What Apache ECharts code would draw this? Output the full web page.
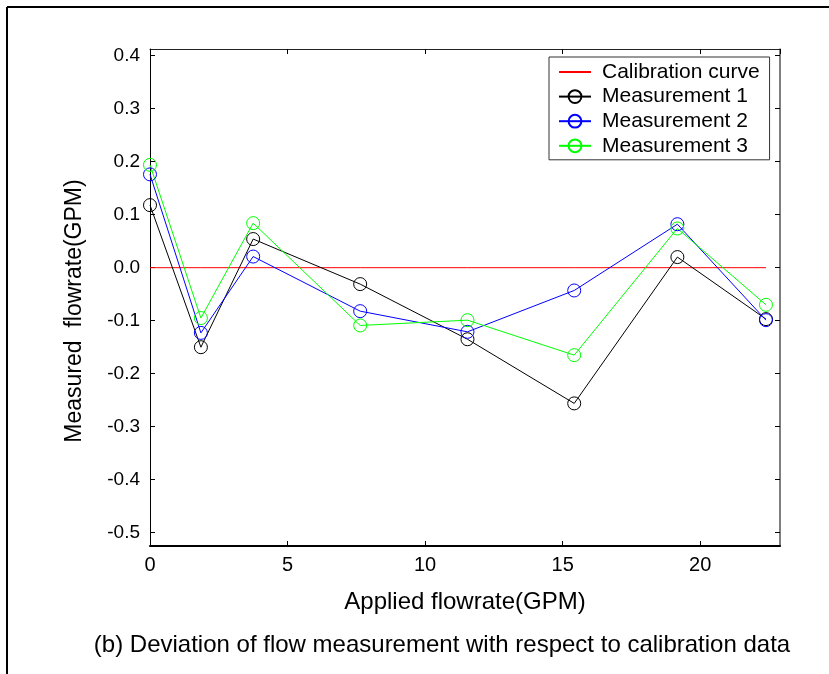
<!DOCTYPE html>
<html>
<head>
<meta charset="utf-8">
<script src="https://cdn.jsdelivr.net/npm/echarts@6/dist/echarts.min.js"></script>
<style>
  html, body { margin: 0; padding: 0; background: #fff; }
  #chart { width: 829px; height: 674px; }
</style>
</head>
<body>
<div id="chart"></div>
<script>
// Applied flow rates (GPM) and deviation of each measurement run (GPM)
const appliedFlow = [0, 1.85, 3.75, 7.64, 11.54, 15.42, 19.17, 22.39];
const calibration = [0, 0, 0, 0, 0, 0, 0, 0];
const measurement1 = [0.118, -0.150, 0.054, -0.031, -0.135, -0.256, 0.020, -0.097];
const measurement2 = [0.176, -0.123, 0.021, -0.082, -0.121, -0.043, 0.082, -0.099];
const measurement3 = [0.194, -0.095, 0.084, -0.109, -0.099, -0.165, 0.074, -0.070];
const yTicks = [-0.5, -0.4, -0.3, -0.2, -0.1, 0.0, 0.1, 0.2, 0.3, 0.4];

const FONT = 'Arial, "Liberation Sans", sans-serif';
const pairs = (ys) => appliedFlow.map((x, i) => [x, ys[i]]);

const X_MIN = 0, X_MAX = 22.9, Y_MIN = -0.525, Y_MAX = 0.4125;

function markerSeries(name, color, values) {
  return {
    name: name,
    type: 'line',
    data: pairs(values),
    symbol: 'circle',
    symbolSize: 13,
    showSymbol: true,
    lineStyle: { color: color, width: 1 },
    itemStyle: { color: 'rgba(0,0,0,0)', borderColor: color, borderWidth: 1 },
    emphasis: { disabled: true },
    animation: false,
    z: 3
  };
}

const chart = echarts.init(document.getElementById('chart'), null, { renderer: 'canvas' });
chart.setOption({
  backgroundColor: '#fff',
  animation: false,
  textStyle: { fontFamily: FONT },
  grid: { left: 150, right: 49, top: 49, bottom: 128, containLabel: false },
  xAxis: [
    {
      type: 'value', min: X_MIN, max: X_MAX, interval: 5,
      name: 'Applied flowrate(GPM)', nameLocation: 'middle', nameGap: 44,
      nameTextStyle: { fontFamily: FONT, fontSize: 24, color: '#000' },
      axisLine: { onZero: false, lineStyle: { color: '#000', width: 2 } },
      axisTick: { inside: true, length: 5, lineStyle: { color: '#000' } },
      axisLabel: { fontFamily: FONT, fontSize: 20, color: '#000', margin: 9,
        showMaxLabel: false },
      splitLine: { show: false }
    },
    {
      type: 'value', min: X_MIN, max: X_MAX, interval: 5, position: 'top',
      axisLine: { onZero: false, lineStyle: { color: '#222', width: 1 } },
      axisTick: { inside: true, length: 5, lineStyle: { color: '#000' } },
      axisLabel: { show: false },
      splitLine: { show: false }
    }
  ],
  yAxis: [
    {
      type: 'value', min: Y_MIN, max: Y_MAX,
      axisLine: { onZero: false, lineStyle: { color: '#000', width: 1 } },
      axisTick: { inside: true, length: 5, customValues: yTicks, lineStyle: { color: '#000' } },
      axisLabel: { fontFamily: FONT, fontSize: 19, color: '#000', margin: 10,
        customValues: yTicks, formatter: (v) => v.toFixed(1) },
      splitLine: { show: false }
    },
    {
      type: 'value', min: Y_MIN, max: Y_MAX, position: 'right',
      axisLine: { onZero: false, lineStyle: { color: '#555', width: 1.5 } },
      axisTick: { inside: true, length: 5, customValues: yTicks, lineStyle: { color: '#000' } },
      axisLabel: { show: false },
      splitLine: { show: false }
    }
  ],
  legend: {
    orient: 'vertical',
    left: 549, top: 57,
    padding: [4, 10, 3, 9],
    backgroundColor: '#fff',
    borderColor: '#333', borderWidth: 1,
    itemWidth: 32, itemHeight: 16, itemGap: 2.6,
    textStyle: { fontFamily: FONT, fontSize: 21, color: '#000', lineHeight: 22, padding: [0, 0, 0, 6] },
    data: [
      { name: 'Calibration curve', itemStyle: { color: 'rgba(0,0,0,0)', borderWidth: 0, opacity: 0 } },
      'Measurement 1', 'Measurement 2', 'Measurement 3'
    ]
  },
  series: [
    {
      name: 'Calibration curve',
      type: 'line',
      data: pairs(calibration),
      symbol: 'none',
      lineStyle: { color: '#ff0000', width: 1 },
      itemStyle: { color: '#ff0000' },
      emphasis: { disabled: true },
      animation: false,
      z: 2
    },
    markerSeries('Measurement 1', '#000000', measurement1),
    markerSeries('Measurement 2', '#0000ff', measurement2),
    markerSeries('Measurement 3', '#00ff00', measurement3)
  ],
  graphic: [
    { type: 'line', shape: { x1: 7, y1: 7, x2: 829, y2: 7 }, style: { stroke: '#000', lineWidth: 2 }, silent: true },
    { type: 'line', shape: { x1: 7, y1: 7, x2: 7, y2: 674 }, style: { stroke: '#000', lineWidth: 2 }, silent: true },
    {
      type: 'text', x: 75, y: 311, rotation: Math.PI / 2,
      style: { text: 'Measured  flowrate(GPM)', font: '23px ' + FONT, fill: '#000',
        align: 'center', verticalAlign: 'middle' },
      silent: true
    },
    {
      type: 'text', x: 442, y: 645,
      style: { text: '(b) Deviation of flow measurement with respect to calibration data',
        font: '24px ' + FONT, fill: '#000', align: 'center', verticalAlign: 'middle' },
      silent: true
    }
  ]
});
</script>
</body>
</html>
